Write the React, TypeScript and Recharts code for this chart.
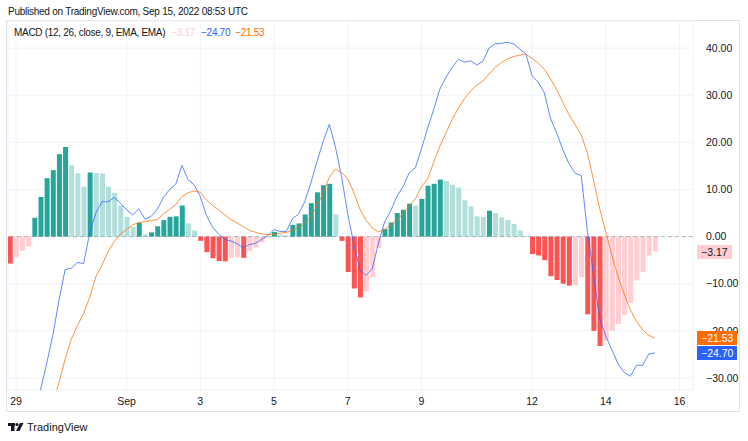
import React from 'react';
import {
  ComposedChart,
  Bar,
  Line,
  XAxis,
  YAxis,
  CartesianGrid,
  ReferenceLine,
  Cell
} from 'recharts';

// MACD(12, 26, 9) on 4h candles, Aug 28 20:00 -> Sep 15 08:00 UTC
const histogram = [
  -5.7, -4.4, -3.0, -2.1, 4.0, 8.4, 12.4, 14.1, 17.5, 19.0,
  15.1, 13.4, 10.6, 13.6, 13.5, 13.4, 10.6, 9.3, 6.6, 4.2,
  2.1, 2.9, 0.5, 0.9, 2.2, 3.5, 4.2, 4.3, 6.6, 2.8,
  1.3, -0.9, -3.3, -4.6, -5.2, -5.25, -4.55, -4.4, -4.5, -3.0,
  -2.3, -1.2, -0.2, 1.0, 0.4, 0.2, 2.5, 2.8, 4.7, 7.1,
  9.4, 10.9, 11.2, 4.7, -0.9, -7.5, -11.0, -12.9, -11.6, -8.6,
  -2.4, 1.6, 3.0, 5.0, 5.7, 7.0, 6.6, 8.0, 10.8, 11.2,
  12.1, 11.8, 11.0, 10.4, 7.7, 6.4, 4.3, 4.2, 5.5, 5.0,
  4.1, 3.5, 2.7, 1.3, 0.1, -3.7, -4.0, -5.0, -8.4, -9.2,
  -10.0, -10.4, -10.35, -8.6, -16.5, -20.0, -23.2, -22.1, -20.0, -18.5,
  -16.6, -14.1, -9.3, -7.5, -4.0, -3.17
];

const macdLine = [
  -46.0, -45.5, -44.8, -44.3, -38.0, -32.5, -26.9, -20.9, -13.5, -7.0,
  -6.7, -5.5, -5.7, 0.7, 5.0, 7.4, 7.4, 8.3, 7.1, 5.7,
  4.6, 5.9, 3.7, 4.3, 5.8, 8.3, 10.0, 11.1, 15.1, 12.1,
  11.0, 8.5, 4.5, 2.0, 0.5, -0.65, -0.95, -1.5, -2.4, -1.7,
  -1.4, -0.6, 0.2, 1.5, 1.1, 1.1, 3.8, 4.8, 7.4, 11.4,
  15.9, 20.2, 23.8, 19.0, 12.7, 4.8, -1.7, -7.1, -8.2, -6.8,
  -1.4, 3.1, 5.5, 8.5, 10.6, 13.5, 14.6, 18.6, 23.0, 27.0,
  31.3, 33.8, 35.9, 37.6, 37.0, 37.3, 36.4, 37.2, 40.0, 40.9,
  41.0, 41.2, 40.9, 39.8, 38.8, 34.1, 32.8, 30.5, 25.1, 22.0,
  18.5, 15.5, 13.45, 13.0, 1.3, -8.0, -17.2, -21.1, -24.0, -27.0,
  -28.8, -29.6, -27.3, -27.3, -24.9, -24.7
];

const signalLine = [
  -40.3, -41.1, -41.8, -42.2, -42.0, -40.9, -39.3, -35.0, -31.0, -26.0,
  -21.8, -18.9, -16.3, -12.9, -8.5, -6.0, -3.2, -1.0, 0.5, 1.5,
  2.5, 3.0, 3.2, 3.4, 3.6, 4.8, 5.8, 6.8, 8.5, 9.3,
  9.7, 9.4, 7.8, 6.6, 5.7, 4.6, 3.6, 2.9, 2.1, 1.3,
  0.9, 0.6, 0.4, 0.5, 0.7, 0.9, 1.3, 2.0, 2.7, 4.3,
  6.5, 9.3, 12.6, 14.3, 13.6, 12.3, 9.3, 5.8, 3.4, 1.8,
  1.0, 1.5, 2.5, 3.5, 4.9, 6.5, 8.0, 10.6, 12.2, 15.8,
  19.2, 22.0, 24.9, 27.2, 29.3, 30.9, 32.1, 33.0, 34.5, 35.9,
  36.9, 37.7, 38.2, 38.5, 38.7, 37.8, 36.8, 35.5, 33.5, 31.2,
  28.5, 25.9, 23.8, 21.6, 17.8, 12.0, 6.0, 1.0, -4.0, -8.5,
  -12.2, -15.5, -18.0, -19.8, -20.9, -21.53
];

const xTickIndex = [1, 19, 31, 43, 55, 67, 85, 97, 109];
const xTickLabels = ['29', 'Sep', '3', '5', '7', '9', '12', '14', '16'];
const yTicks = [-30, -20, -10, 0, 10, 20, 30, 40];

const Y_MIN = -32.54;
const Y_MAX = 45.74;
const X_MIN = -0.3;
const X_MAX = 111.2;
const PLOT_TOP = 21;
const PLOT_BOTTOM = 390;

const FONT = '"Liberation Sans", Arial, sans-serif';
const TEXT = '#131722';
const MACD_COLOR = '#2962ff';
const SIGNAL_COLOR = '#ff6d00';

const fmt = (v: number) => (v < 0 ? '\u2212' : '') + Math.abs(v).toFixed(2);

const data = histogram.map((h, i) => ({
  i,
  hist: h,
  macd: macdLine[i],
  signal: signalLine[i]
}));

// TradingView histogram colouring: darker shade while moving away from zero
const barColor = (i: number) => {
  const h = histogram[i];
  const prev = i > 0 ? histogram[i - 1] : h;
  if (h >= 0) return h > prev ? '#26a69a' : '#b2dfdb';
  return h > prev ? '#ffcdd2' : '#ff5252';
};

const valueToY = (v: number) =>
  PLOT_TOP + ((Y_MAX - v) / (Y_MAX - Y_MIN)) * (PLOT_BOTTOM - PLOT_TOP);

const last = histogram.length - 1;
const badges = [
  { v: histogram[last], bg: '#ffcdd2', fg: TEXT },
  { v: signalLine[last], bg: SIGNAL_COLOR, fg: '#ffffff' },
  { v: macdLine[last], bg: MACD_COLOR, fg: '#ffffff' }
];

const App: React.FC = () => {
  return (
    <div
      style={{
        position: 'fixed',
        left: 0,
        top: 0,
        width: 748,
        height: 441,
        background: '#ffffff',
        fontFamily: FONT,
        color: TEXT,
        overflow: 'hidden'
      }}
    >
      <div
        style={{
          position: 'absolute',
          left: 6,
          top: 20,
          width: 734,
          height: 392,
          border: '1px solid #e0e3eb',
          boxSizing: 'border-box'
        }}
      />
      <ComposedChart
        width={748}
        height={441}
        data={data}
        margin={{ top: 21, right: 8, bottom: 21, left: 8 }}
        style={{ position: 'absolute', left: 0, top: 0 }}
      >
        <CartesianGrid stroke="#f0f3fa" strokeWidth={1} />
        <XAxis
          dataKey="i"
          type="number"
          domain={[X_MIN, X_MAX]}
          allowDataOverflow
          ticks={xTickIndex}
          interval={0}
          height={30}
          axisLine={false}
          tickLine={false}
          tickFormatter={(v: number) => xTickLabels[xTickIndex.indexOf(v)]}
          tick={{ fill: TEXT, fontSize: 10.5, fontFamily: FONT }}
        />
        <YAxis
          orientation="right"
          width={47}
          domain={[Y_MIN, Y_MAX]}
          allowDataOverflow
          ticks={yTicks}
          interval={0}
          axisLine={false}
          tickLine={false}
          tickMargin={7}
          tickFormatter={fmt}
          tick={{ fill: TEXT, fontSize: 10.5, fontFamily: FONT, textAnchor: 'start' }}
        />
        <ReferenceLine y={0} stroke="#787b86" strokeOpacity={0.5} strokeDasharray="4 3" />
        <Bar dataKey="hist" barSize={5} isAnimationActive={false}>
          {data.map((d) => (
            <Cell key={d.i} fill={barColor(d.i)} />
          ))}
        </Bar>
        <Line
          type="linear"
          dataKey="macd"
          stroke={MACD_COLOR}
          strokeOpacity={0.75}
          strokeWidth={1}
          dot={false}
          isAnimationActive={false}
        />
        <Line
          type="linear"
          dataKey="signal"
          stroke={SIGNAL_COLOR}
          strokeOpacity={0.75}
          strokeWidth={1}
          dot={false}
          isAnimationActive={false}
        />
      </ComposedChart>

      <div
        style={{
          position: 'absolute',
          left: 8,
          top: 6,
          fontSize: 10,
          letterSpacing: -0.25,
          whiteSpace: 'nowrap'
        }}
      >
        Published on TradingView.com, Sep 15, 2022 08:53 UTC
      </div>
      <div
        style={{
          position: 'absolute',
          left: 14,
          top: 27,
          fontSize: 10,
          letterSpacing: -0.3,
          whiteSpace: 'nowrap'
        }}
      >
        MACD (12, 26, close, 9, EMA, EMA)
        <span style={{ color: '#ffcdd2', marginLeft: 6 }}>{fmt(histogram[last])}</span>
        <span style={{ color: MACD_COLOR, marginLeft: 6 }}>{fmt(macdLine[last])}</span>
        <span style={{ color: SIGNAL_COLOR, marginLeft: 5 }}>{fmt(signalLine[last])}</span>
      </div>

      {badges.map((b) => (
        <div
          key={b.bg}
          style={{
            position: 'absolute',
            left: 697,
            top: valueToY(b.v) - 7,
            height: 14,
            lineHeight: '14px',
            padding: '0 4px',
            background: b.bg,
            color: b.fg,
            fontSize: 10.5,
            whiteSpace: 'nowrap'
          }}
        >
          {fmt(b.v)}
        </div>
      ))}

      <div style={{ position: 'absolute', left: 8, top: 421, display: 'flex', alignItems: 'center' }}>
        <svg width="16" height="10" viewBox="0 0 16 10">
          <rect x="0" y="1" width="7" height="3" fill={TEXT} />
          <rect x="3" y="1" width="3.5" height="8" fill={TEXT} />
          <circle cx="9" cy="2.5" r="1.6" fill={TEXT} />
          <polygon points="12,1 15.5,1 11.5,9 8,9" fill={TEXT} />
        </svg>
        <span style={{ fontSize: 11, marginLeft: 3 }}>TradingView</span>
      </div>
    </div>
  );
};

export default App;
